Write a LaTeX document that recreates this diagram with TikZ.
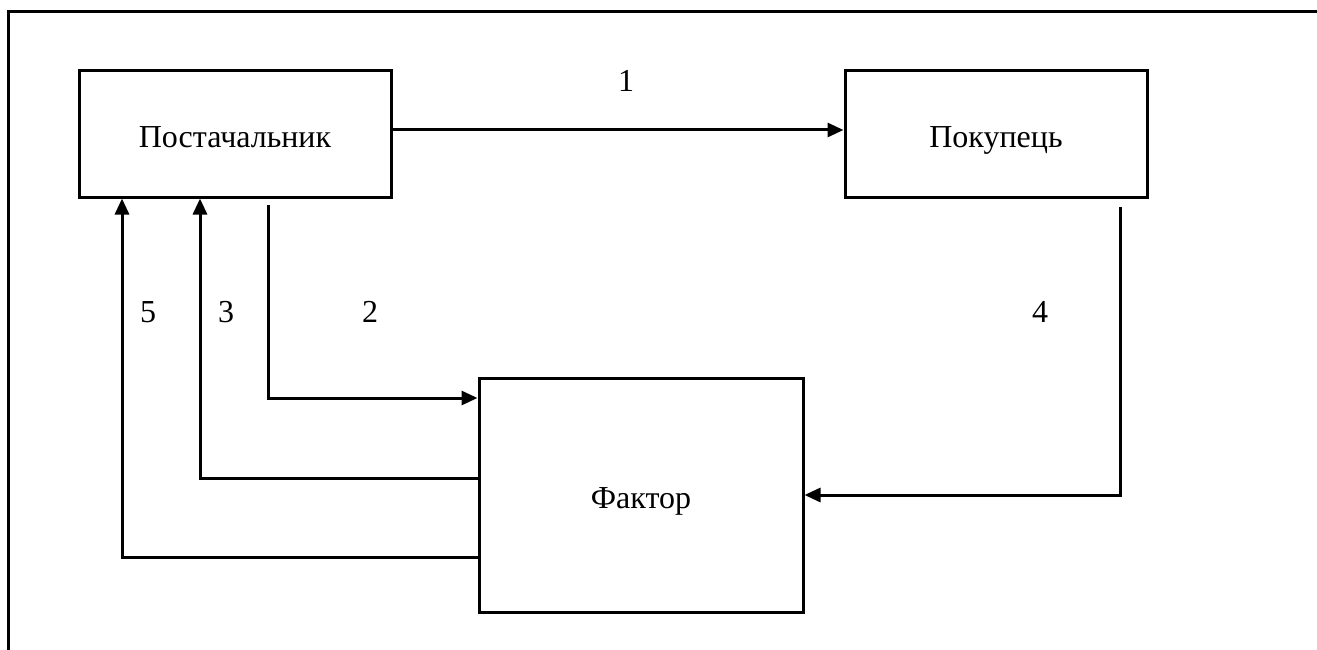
\documentclass[tikz,border=0pt]{standalone}
\usepackage{fontspec}
\setmainfont{Liberation Serif}
\usetikzlibrary{arrows.meta}
\begin{document}
\begin{tikzpicture}[x=1pt,y=-1pt,
  every node/.style={font=\fontsize{32}{38}\selectfont},
  box/.style={draw,line width=3pt,inner sep=0pt,text height=26pt,text depth=0pt},
  conn/.style={line width=3pt,-{Triangle[length=16pt,width=14pt]}},
  lbl/.style={inner sep=0pt}]
\useasboundingbox (0,0) rectangle (1317,650);
\draw[line width=3.2pt] (1320,11.5) -- (8.5,11.5) -- (8.5,653);
\node[box,minimum width=312pt,minimum height=126pt] (sup) at (235,134) {Постачальник};
\node[box,minimum width=302pt,minimum height=126pt] (buy) at (996,134) {Покупець};
\node[box,minimum width=324pt,minimum height=234pt] (fac) at (641,495) {Фактор};
\coordinate (s2) at (268,205);
\coordinate (s4) at (1120,207);
% 1
\draw[conn] (sup.east |- 0,130) -- (buy.west |- 0,130);
% 2
\draw[conn] (s2) -- (268,398) -- (fac.west |- 0,398);
% 3
\draw[conn] (fac.west |- 0,478) -- (200,478) -- (200,0 |- sup.south);
% 5
\draw[conn] (fac.west |- 0,557) -- (122,557) -- (122,0 |- sup.south);
% 4
\draw[conn] (s4) -- (1120,495) -- (fac.east |- 0,495);
\node[lbl] (l1) at (626,81) {1};
\node[lbl] (l5) at (148,312) {5};
\node[lbl] (l3) at (226,312) {3};
\node[lbl] (l2) at (370,312) {2};
\node[lbl] (l4) at (1040,312) {4};
\end{tikzpicture}
\end{document}
